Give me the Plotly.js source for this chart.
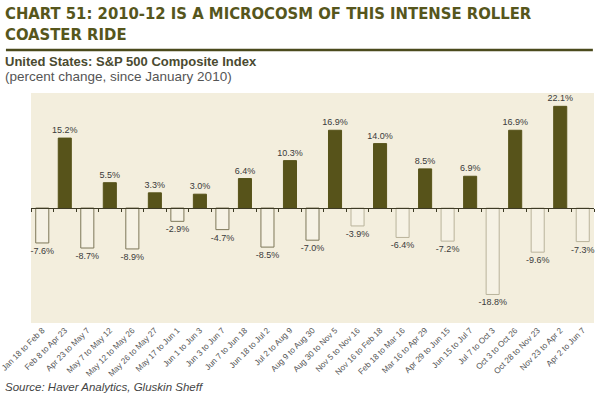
<!DOCTYPE html>
<html>
<head>
<meta charset="utf-8">
<script src="https://cdn.plot.ly/plotly-3.0.1.min.js"></script>
<style>
html,body{margin:0;padding:0;background:#fff;}
#chart{width:600px;height:398px;}
</style>
</head>
<body>
<div id="chart"></div>
<script>
const periods = ["Jan 18 to Feb 8","Feb 8 to Apr 23","Apr 23 to May 7","May 7 to May 12","May 12 to May 26","May 26 to May 27","May 17 to Jun 1","Jun 1 to Jun 3","Jun 3 to Jun 7","Jun 7 to Jun 18","Jun 18 to Jul 2","Jul 2 to Aug 9","Aug 9 to Aug 30","Aug 30 to Nov 5","Nov 5 to Nov 16","Nov 16 to Feb 18","Feb 18 to Mar 16","Mar 16 to Apr 29","Apr 29 to Jun 15","Jun 15 to Jul 7","Jul 7 to Oct 3","Oct 3 to Oct 26","Oct 28 to Nov 23","Nov 23 to Apr 2","Apr 2 to Jun 7"];
const pctChange = [-7.6,15.2,-8.7,5.5,-8.9,3.3,-2.9,3.0,-4.7,6.4,-8.5,10.3,-7.0,16.9,-3.9,14.0,-6.4,8.5,-7.2,6.9,-18.8,16.9,-9.6,22.1,-7.3];

const olive = '#57531a';
const bg = '#f3eedd';
const fills = pctChange.map(v => v >= 0 ? olive : '#f6f2e5');
const lines = pctChange.map((v,i) => v >= 0 ? olive : (i < 13 ? '#7d7759' : '#b9b39b'));
const labels = pctChange.map(v => v.toFixed(1) + '%');

const bars = {
  type: 'bar', x: periods, y: pctChange, xaxis: 'x', yaxis: 'y',
  marker: {color: fills, line: {color: lines, width: 1}},
  width: 0.58,
  text: labels, textposition: 'outside', cliponaxis: false, constraintext: 'none',
  textfont: {family: 'Liberation Sans, Arial, sans-serif', size: 9, color: '#3a3a3a'},
  hoverinfo: 'skip'
};
const dummy = {
  type: 'scatter', mode: 'markers', x: periods, y: pctChange, xaxis: 'x2', yaxis: 'y',
  marker: {opacity: 0}, hoverinfo: 'skip', showlegend: false
};

const layout = {
  width: 600, height: 398,
  margin: {l: 31, r: 6, t: 93, b: 75},
  paper_bgcolor: '#ffffff', plot_bgcolor: bg,
  showlegend: false,
  bargap: 0.42,
  xaxis: {
    type: 'category', range: [-0.5, 24.5], anchor: 'free', position: 0.5,
    showline: true, linecolor: '#3d3a25', linewidth: 1,
    ticks: 'outside', tickson: 'boundaries', ticklen: 3, tickcolor: '#3d3a25',
    showticklabels: false, showgrid: false, zeroline: false, fixedrange: true
  },
  xaxis2: {
    type: 'category', range: [-0.5, 24.5], overlaying: 'x', anchor: 'y', side: 'bottom',
    showline: false, ticks: '', showgrid: false, zeroline: false,
    tickangle: -45, tickfont: {family: 'Liberation Sans, Arial, sans-serif', size: 8.2, color: '#555'}
  },
  yaxis: {
    range: [-25, 25], showticklabels: false, ticks: '', showgrid: false,
    zeroline: false, showline: false, fixedrange: true
  },
  shapes: [
    {type: 'line', xref: 'paper', yref: 'paper', x0: -0.0445, x1: 0.998, y0: 1.187, y1: 1.187,
     line: {color: '#4b4a1c', width: 2.5}}
  ],
  annotations: [
    {xref: 'paper', yref: 'paper', x: -0.05, y: 1.395, xanchor: 'left', yanchor: 'top', align: 'left',
     showarrow: false,
     text: '<b>CHART 51: 2010-12 IS A MICROCOSM OF THIS INTENSE ROLLER<br>COASTER RIDE</b>',
     font: {family: 'Liberation Sans Narrow, DejaVu Sans Condensed, sans-serif', size: 16.5, color: '#56561c'}},
    {xref: 'paper', yref: 'paper', x: -0.05, y: 1.18, xanchor: 'left', yanchor: 'top', align: 'left',
     showarrow: false,
     text: '<b>United States: S&P 500 Composite Index</b>',
     font: {family: 'Liberation Sans, Arial, sans-serif', size: 13, color: '#4a4a30'}},
    {xref: 'paper', yref: 'paper', x: -0.05, y: 1.112, xanchor: 'left', yanchor: 'top', align: 'left',
     showarrow: false,
     text: '(percent change, since January 2010)',
     font: {family: 'Liberation Sans, Arial, sans-serif', size: 13.5, color: '#555'}},
    {xref: 'paper', yref: 'paper', x: -0.05, y: -0.245, xanchor: 'left', yanchor: 'top', align: 'left',
     showarrow: false,
     text: '<i>Source: Haver Analytics, Gluskin Sheff</i>',
     font: {family: 'Liberation Sans, Arial, sans-serif', size: 11.5, color: '#444'}}
  ]
};

Plotly.newPlot('chart', [bars, dummy], layout, {displayModeBar: false, staticPlot: true});
</script>
</body>
</html>
